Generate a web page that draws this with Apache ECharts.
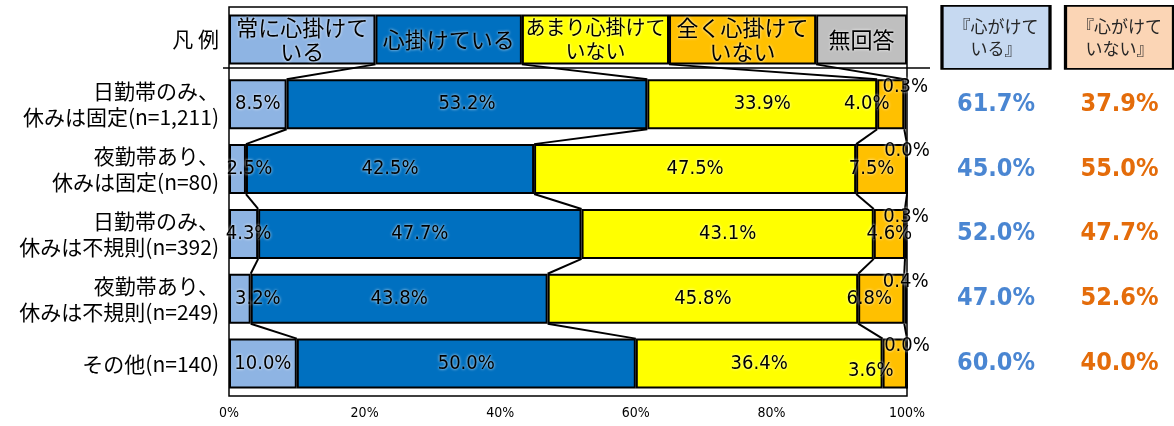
<!DOCTYPE html>
<html><head><meta charset="utf-8">
<script src="https://cdn.jsdelivr.net/npm/echarts@6/dist/echarts.min.js"></script>
<style>html,body{margin:0;padding:0;background:#fff}#c{width:1174px;height:426px}</style>
</head><body><div id="c"></div>
<script>
// ---- data ----
const categories = ['凡 例', '日勤帯のみ、\n休みは固定(n=1,211)', '夜勤帯あり、\n休みは固定(n=80)', '日勤帯のみ、\n休みは不規則(n=392)', '夜勤帯あり、\n休みは不規則(n=249)', 'その他(n=140)'];
const seriesNames = ['常に心掛けて\nいる', '心掛けている', 'あまり心掛けて\nいない', '全く心掛けて\nいない', '無回答'];
const legendWidths = [21.6, 21.6, 21.7, 21.7, 13.4];
const always = [8.5, 2.5, 4.3, 3.2, 10.0];
const mindful = [53.2, 42.5, 47.7, 43.8, 50.0];
const notMuch = [33.9, 47.5, 43.1, 45.8, 36.4];
const notAtAll = [4.0, 7.5, 4.6, 6.8, 3.6];
const noAnswer = [0.3, 0.0, 0.3, 0.4, 0.0];
const summaryHeaders = ['『心がけて\nいる』', '『心がけて\nいない』'];
const careTotals = [61.7, 45.0, 52.0, 47.0, 60.0];
const notCareTotals = [37.9, 55.0, 47.7, 52.6, 40.0];
const xTickLabels = ['0%', '20%', '40%', '60%', '80%', '100%'];

// ---- styles ----
const colors = ['#8EB4E3', '#0070C0', '#FFFF00', '#FFC000', '#BFBFBF'];
const legendFont = [22, 22, 20, 22, 22];
const labelNudge = { 0: [[0,0],[12,0],[5,0],[18,0],[0,0]], 3: [[-24,0],[-10,0],[0,0],[-12,0],[-24,7]] };
const numFont = "'Liberation Sans Narrow','DejaVu Sans Condensed',sans-serif";
const cjkFont = "'Noto Sans CJK JP','Noto Sans',sans-serif";
const glow = { color: '#000', textBorderWidth: 0, textShadowColor: '#fff', textShadowBlur: 3 };

const seriesValues = [always, mindful, notMuch, notAtAll, noAnswer];
const rows = [legendWidths].concat(always.map((_, r) => seriesValues.map(s => s[r])));

const barSeries = seriesValues.map((vals, k) => {
  const data = [{
    value: legendWidths[k],
    label: Object.assign({ show: true, position: 'inside', formatter: seriesNames[k], fontSize: legendFont[k], lineHeight: 24, fontFamily: cjkFont, offset: [0, 0] }, glow)
  }].concat(vals.map((v, r) => {
    const lab = Object.assign({ position: 'inside' }, glow);
    if (k === 4) { lab.position = 'insideTop'; lab.distance = -2; }
    if (labelNudge[k]) lab.offset = labelNudge[k][r];
    return { value: v, label: lab };
  }));
  return {
    type: 'bar', name: seriesNames[k], stack: 'total', xAxisIndex: 0, yAxisIndex: 0,
    barCategoryGap: '23%',
    itemStyle: { color: colors[k], borderColor: '#000', borderWidth: 2 },
    label: Object.assign({
      show: true, position: 'inside', fontSize: 20, fontFamily: numFont,
      formatter: p => p.dataIndex === 0 ? seriesNames[k] : p.value.toFixed(1) + '%'
    }, glow),
    data: data, z: 3
  };
});

// link lines between consecutive bars
function cum(arr) { const out = []; let s = 0; for (let i = 0; i < 4; i++) { s += arr[i]; out.push(s); } return out; }
const linkData = [];
for (let i = 0; i < rows.length - 1; i++) linkData.push([i].concat(cum(rows[i]), cum(rows[i + 1])));

const linkSeries = {
  type: 'custom', xAxisIndex: 0, yAxisIndex: 0, z: 2, silent: true,
  encode: { y: 0, x: [1, 2, 3, 4, 5, 6, 7, 8] },
  data: linkData,
  renderItem: function (params, api) {
    const i = api.value(0);
    const yA = api.coord([0, i])[1], yB = api.coord([0, i + 1])[1];
    const band = Math.abs(yB - yA), half = band * 0.77 / 2;
    const children = [];
    for (let k = 0; k < 4; k++) {
      const x1 = api.coord([api.value(1 + k), i])[0];
      const x2 = api.coord([api.value(5 + k), i + 1])[0];
      children.push({ type: 'line', shape: { x1: x1, y1: yA + half, x2: x2, y2: yB - half }, style: { stroke: '#000', lineWidth: 2 } });
    }
    return { type: 'group', children: children };
  }
};

const headerSeries = {
  type: 'scatter', xAxisIndex: 1, yAxisIndex: 1, symbol: 'rect', symbolSize: [108, 63], symbolOffset: [0, -2], z: 3,
  data: summaryHeaders.map((h, c) => ({ value: [c, 0], itemStyle: { color: c === 0 ? '#C6D9F1' : '#FBD5B5', borderColor: '#000', borderWidth: 2.5, opacity: 1 } })),
  itemStyle: { opacity: 1 },
  label: { show: true, position: 'inside', color: '#262626', fontSize: 17, lineHeight: 22, fontFamily: cjkFont,
    formatter: p => summaryHeaders[p.value[0]] }
};
const totalsFont = { fontSize: 25, fontWeight: 'bold', fontFamily: "'DejaVu Sans Condensed','DejaVu Sans',sans-serif" };
const careSeries = {
  type: 'scatter', xAxisIndex: 1, yAxisIndex: 1, symbolSize: 1, itemStyle: { color: 'rgba(0,0,0,0)', opacity: 1 },
  data: careTotals.map((v, r) => [0, r + 1, v]),
  label: Object.assign({ show: true, position: 'inside', color: '#4A86D2', formatter: p => p.value[2].toFixed(1) + '%' }, totalsFont)
};
const notCareSeries = {
  type: 'scatter', xAxisIndex: 1, yAxisIndex: 1, symbolSize: 1, itemStyle: { color: 'rgba(0,0,0,0)', opacity: 1 },
  data: notCareTotals.map((v, r) => [1, r + 1, v]),
  label: Object.assign({ show: true, position: 'inside', color: '#E46C0A', formatter: p => p.value[2].toFixed(1) + '%' }, totalsFont)
};

const chart = echarts.init(document.getElementById('c'), null, { renderer: 'canvas' });
chart.setOption({
  animation: false,
  backgroundColor: '#fff',
  grid: [
    { left: 229, right: 267, top: 7, bottom: 30, show: true, borderColor: '#000', borderWidth: 1.5, backgroundColor: 'transparent' },
    { left: 996, right: 54.5, top: 7, bottom: 30 }
  ],
  xAxis: [
    { type: 'value', gridIndex: 0, min: 0, max: 100, interval: 20, splitLine: { show: false }, axisLine: { show: false }, axisTick: { show: false },
      axisLabel: { color: '#000', fontSize: 14, fontFamily: "'DejaVu Sans Condensed',sans-serif", margin: 10, formatter: v => xTickLabels[Math.round(v / 20)] } },
    { type: 'category', gridIndex: 1, data: ['c0', 'c1'], boundaryGap: false, show: false }
  ],
  yAxis: [
    { type: 'category', gridIndex: 0, data: categories, inverse: true, axisLine: { show: false }, axisTick: { show: false },
      axisLabel: { color: '#000', fontSize: 21, lineHeight: 26, fontFamily: cjkFont, margin: 10, align: 'right' } },
    { type: 'category', gridIndex: 1, data: categories, inverse: true, show: false }
  ],
  graphic: [
    { type: 'line', shape: { x1: 223, y1: 68, x2: 930, y2: 68 }, style: { stroke: '#000', lineWidth: 1.5 }, z: 10 }
  ],
  series: barSeries.concat([linkSeries, headerSeries, careSeries, notCareSeries])
});
</script></body></html>
